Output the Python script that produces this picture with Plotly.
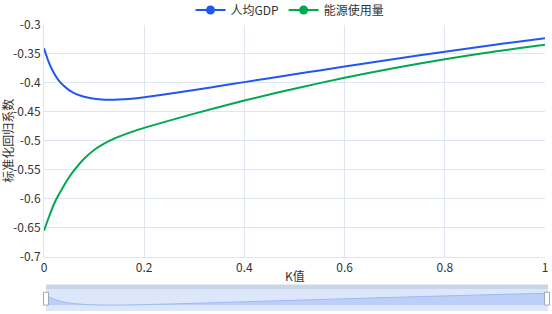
import plotly.graph_objects as go

k_values = [0, 0.01, 0.02, 0.03, 0.04, 0.05, 0.06, 0.08, 0.10, 0.12, 0.14, 0.16, 0.18,
            0.20, 0.25, 0.30, 0.35, 0.40, 0.45, 0.50, 0.55, 0.60, 0.65, 0.70, 0.75,
            0.80, 0.85, 0.90, 0.95, 1.00]
gdp = [-0.341, -0.366, -0.384, -0.397, -0.406, -0.413, -0.418, -0.4245, -0.428, -0.4295,
       -0.4295, -0.4287, -0.4272, -0.4252, -0.4193, -0.4128, -0.4060, -0.3992, -0.3924,
       -0.3857, -0.3791, -0.3724, -0.3658, -0.3593, -0.3530, -0.3468, -0.3408, -0.3349,
       -0.3291, -0.3235]
energy = [-0.655, -0.631, -0.609, -0.592, -0.577, -0.563, -0.551, -0.531, -0.516, -0.505,
          -0.4965, -0.4895, -0.4835, -0.478, -0.4655, -0.4535, -0.442, -0.431, -0.4205,
          -0.4105, -0.4009, -0.3917, -0.3830, -0.3748, -0.3670, -0.3597, -0.3528, -0.3464,
          -0.3405, -0.3350]
series_names = ["人均GDP", "能源使用量"]
colors = ["#2156f0", "#00a84f"]
y_ticks = [-0.3, -0.35, -0.4, -0.45, -0.5, -0.55, -0.6, -0.65, -0.7]
y_tick_labels = ["-0.3", "-0.35", "-0.4", "-0.45", "-0.5", "-0.55", "-0.6", "-0.65", "-0.7"]
x_ticks = [0, 0.2, 0.4, 0.6, 0.8, 1]
x_tick_labels = ["0", "0.2", "0.4", "0.6", "0.8", "1"]
x_title = "K值"
y_title = "标准化回归系数"

FONT = "Noto Sans CJK SC, Microsoft YaHei, sans-serif"
W, H = 552, 314
ml, mr, mt, mb = 44, 4, 20, 3
pw, ph = W - ml - mr, H - mt - mb

def px_x(p):
    return (p - ml) / pw

def px_y(p):
    return (H - mb - p) / ph

fig = go.Figure()
for name, vals, c in zip(series_names, [gdp, energy], colors):
    fig.add_trace(go.Scatter(x=k_values, y=vals, mode="lines", name=name,
                             line=dict(color=c, width=2, shape="spline", smoothing=1),
                             showlegend=False, xaxis="x", yaxis="y"))
    fig.add_trace(go.Scatter(x=[None], y=[None], mode="lines+markers", name=name,
                             line=dict(color=c, width=2),
                             marker=dict(color=c, size=9),
                             showlegend=True, xaxis="x", yaxis="y"))

# data-zoom style mini chart (GDP series shown relative to its minimum)
gdp_min = min(gdp)
gdp_rel = [v - gdp_min for v in gdp]
fig.add_trace(go.Scatter(x=k_values, y=gdp_rel, mode="lines", fill="tozeroy",
                         line=dict(color="#9db8f3", width=1, shape="spline"),
                         fillcolor="#bccff8", showlegend=False,
                         xaxis="x2", yaxis="y2", hoverinfo="skip"))

grid = "#e0e6f1"
fig.update_layout(
    width=W, height=H,
    margin=dict(l=ml, r=mr, t=mt, b=mb),
    paper_bgcolor="white", plot_bgcolor="white",
    font=dict(family=FONT, size=12, color="#333"),
    showlegend=True,
    legend=dict(orientation="h", x=290 / W, xanchor="center", xref="container",
                y=1 - 10 / H, yanchor="middle", yref="container",
                font=dict(size=12, color="#333"), itemwidth=30,
                tracegroupgap=0, bgcolor="rgba(0,0,0,0)"),
    xaxis=dict(domain=[0, px_x(545)], range=[0, 1], tickvals=x_ticks,
               ticktext=x_tick_labels, showgrid=True, gridcolor=grid, gridwidth=1,
               zeroline=False, showline=True, linecolor=grid, ticks="",
               tickfont=dict(size=12, color="#333"), anchor="y", automargin=False),
    yaxis=dict(domain=[px_y(256), 1], range=[-0.7, -0.3], tickvals=y_ticks,
               ticktext=y_tick_labels, showgrid=True, gridcolor=grid, gridwidth=1,
               zeroline=False, showline=True, linecolor=grid, ticks="",
               tickfont=dict(size=12, color="#333"), anchor="x", automargin=False),
    xaxis2=dict(domain=[px_x(46), px_x(548)], range=[0, 1], visible=False,
                anchor="y2", fixedrange=True),
    yaxis2=dict(domain=[px_y(311), px_y(289)], range=[-0.053, 0.141], visible=False,
                anchor="x2", fixedrange=True),
)

# slider background & top band
fig.add_shape(type="rect", xref="paper", yref="paper",
              x0=px_x(46), x1=px_x(548), y0=px_y(311), y1=px_y(289),
              fillcolor="#dde7fc", line=dict(width=0), layer="below")
fig.add_shape(type="rect", xref="paper", yref="paper",
              x0=px_x(46), x1=px_x(548), y0=px_y(289), y1=px_y(284),
              fillcolor="#cbd5e8", line=dict(width=0), layer="below")
# handles
for hx in [46, 547]:
    fig.add_shape(type="rect", xref="paper", yref="paper",
                  x0=px_x(hx - 2.5), x1=px_x(hx + 2.5), y0=px_y(305), y1=px_y(292),
                  fillcolor="white", line=dict(color="#a3a9b8", width=1), layer="above")

fig.add_annotation(text=x_title, xref="paper", yref="paper",
                   x=px_x(295), y=px_y(275), showarrow=False,
                   font=dict(size=12, color="#333"), xanchor="center", yanchor="middle")
fig.add_annotation(text=y_title, xref="paper", yref="paper",
                   x=px_x(8), y=px_y(138), showarrow=False, textangle=-90,
                   font=dict(size=12, color="#333"), xanchor="center", yanchor="middle")

fig.write_html("out.html", config={"displayModeBar": False},
               post_script="document.body.style.margin='0';")
